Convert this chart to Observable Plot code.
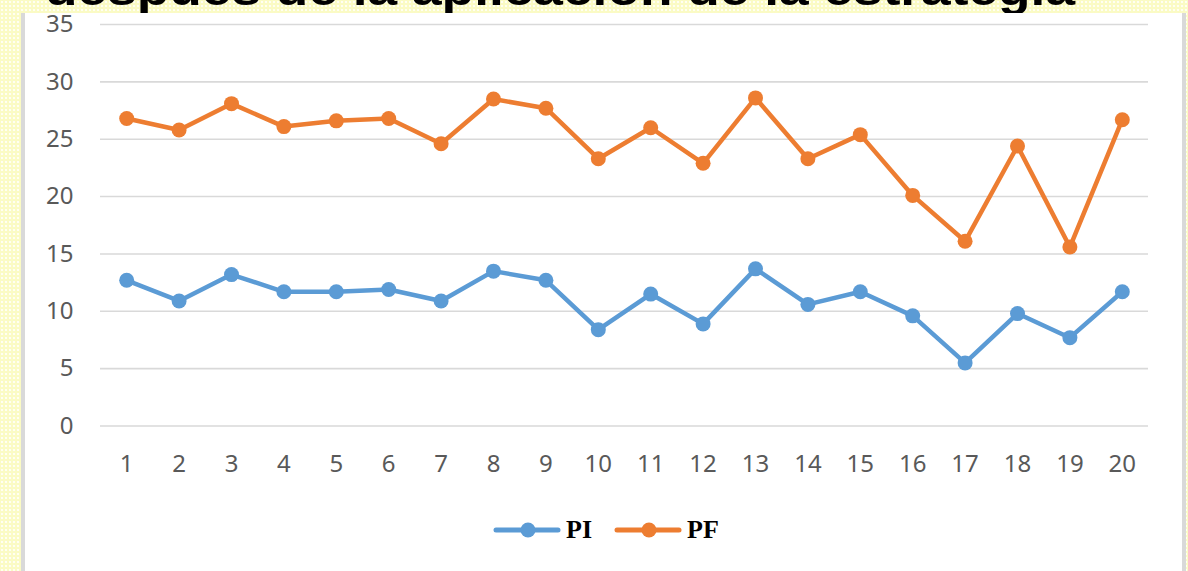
<!DOCTYPE html>
<html>
<head>
<meta charset="utf-8">
<script src="https://cdn.jsdelivr.net/npm/d3@7"></script>
<script src="https://cdn.jsdelivr.net/npm/@observablehq/plot@0.6"></script>
<style>
  html, body { margin: 0; padding: 0; }
  body {
    width: 1188px; height: 571px; position: relative; overflow: hidden;
    background-color: #fbfbc4;
    background-image: radial-gradient(circle, #fffff2 1.1px, transparent 1.6px);
    background-size: 4px 4px;
  }
  #box {
    position: absolute; left: 21px; top: 13px; width: 1157px; height: 570px;
    background: #ffffff; border-left: 4px solid #d9d9d9; border-right: 4px solid #d9d9d9;
  }
  #title { position: absolute; left: 0; top: 0; }
  #chart { position: absolute; left: 0; top: 0; }
  #legend {
    position: absolute; left: 493px; top: 515px; height: 30px;
    display: flex; align-items: center;
    font-family: "Liberation Serif", serif; font-weight: bold; font-size: 26px; color: #000;
  }
  .item { display: flex; align-items: center; margin-right: 22px; }
  .item span { margin-left: 5px; line-height: 30px; }
</style>
</head>
<body>
<div id="box"></div>
<svg id="title" width="1188" height="13">
  <text x="45" y="5" font-family="Liberation Sans, Arial, sans-serif" font-weight="bold" font-size="46" fill="#000" textLength="1030" lengthAdjust="spacingAndGlyphs">después de la aplicación de la estrategia</text>
</svg>
<div id="chart"></div>
<div id="legend"></div>
<script>
const days = [1, 2, 3, 4, 5, 6, 7, 8, 9, 10, 11, 12, 13, 14, 15, 16, 17, 18, 19, 20];
const piValues = [12.7, 10.9, 13.2, 11.7, 11.7, 11.9, 10.9, 13.5, 12.7, 8.4, 11.5, 8.9, 13.7, 10.6, 11.7, 9.6, 5.5, 9.8, 7.7, 11.7];
const pfValues = [26.8, 25.8, 28.1, 26.1, 26.6, 26.8, 24.6, 28.5, 27.7, 23.3, 26.0, 22.9, 28.6, 23.3, 25.4, 20.1, 16.1, 24.4, 15.6, 26.7];
const seriesNames = ["PI", "PF"];
const seriesColors = ["#5b9bd5", "#ed7d31"];
const yTicks = [0, 5, 10, 15, 20, 25, 30, 35];

const data = days.flatMap((d, i) => [
  {day: d, value: piValues[i], series: "PI"},
  {day: d, value: pfValues[i], series: "PF"}
]);

const chart = Plot.plot({
  width: 1188,
  height: 571,
  marginLeft: 100,
  marginRight: 40,
  marginTop: 24,
  marginBottom: 145.5,
  style: {fontFamily: "Noto Sans, sans-serif", fontSize: "24px", color: "#595959", background: "transparent", overflow: "visible"},
  x: {type: "point", domain: days, padding: 0.5, round: false, label: null},
  y: {domain: [0, 35], label: null},
  color: {domain: seriesNames, range: seriesColors},
  marks: [
    Plot.gridY(yTicks, {stroke: "#d9d9d9", strokeOpacity: 1, strokeWidth: 1.6}),
    Plot.axisY(yTicks, {tickSize: 0, tickPadding: 27, fill: "#595959", fontSize: 24, label: null}),
    Plot.axisX(days, {tickSize: 0, tickPadding: 29, fill: "#595959", fontSize: 24, label: null}),
    Plot.line(data, {x: "day", y: "value", z: "series", stroke: "series", strokeWidth: 4.5, strokeLinejoin: "round", strokeLinecap: "round"}),
    Plot.dot(data, {x: "day", y: "value", fill: "series", r: 7.5})
  ]
});
document.getElementById("chart").appendChild(chart);

const legend = document.getElementById("legend");
seriesNames.forEach((name, i) => {
  const item = document.createElement("div");
  item.className = "item";
  item.innerHTML = `<svg width="68" height="16"><line x1="3" y1="8" x2="65" y2="8" stroke="${seriesColors[i]}" stroke-width="5" stroke-linecap="round"/><circle cx="35" cy="8" r="7.5" fill="${seriesColors[i]}"/></svg><span>${name}</span>`;
  legend.appendChild(item);
});
</script>
</body>
</html>
